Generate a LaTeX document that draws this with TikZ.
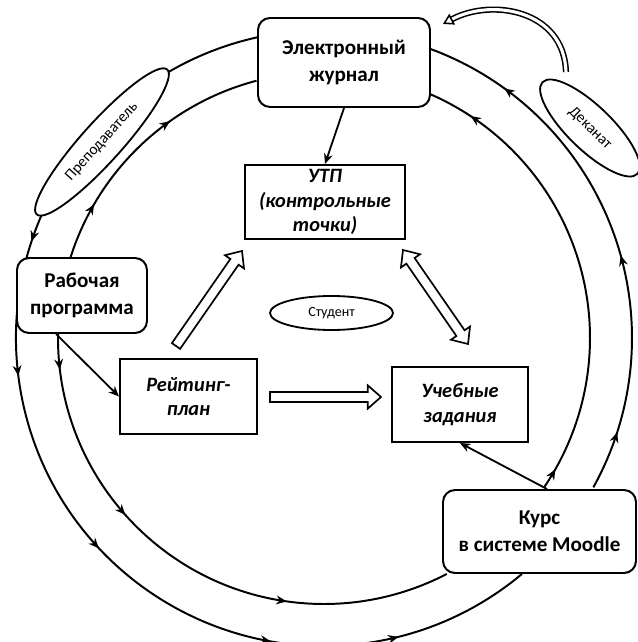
\documentclass[tikz,border=0pt]{standalone}
\usepackage{fontspec}
\setmainfont{Carlito}
\usepackage{tkz-euclide}
\usetikzlibrary{shapes.geometric,decorations.markings,calc,arrows.meta}

\tikzset{
  box/.style={draw, line width=1.4pt, fill=white, rounded corners=3mm, align=center,
    inner sep=0pt, font=\fontsize{15}{19}\selectfont\bfseries},
  task/.style={draw, line width=1.4pt, fill=white, align=center, inner sep=0pt,
    font=\fontsize{14.5}{17.5}\selectfont\bfseries\itshape},
  role/.style={draw, ellipse, line width=1.3pt, fill=white, inner sep=0pt,
    font=\fontsize{10}{12}\selectfont},
  ring/.style={line width=1.4pt},
  fwd/.style={postaction={decorate, decoration={markings,
    mark=at position #1 with {\arrow{Stealth[length=2.6mm,width=2.2mm]}}}}},
  bwd/.style={postaction={decorate, decoration={markings,
    mark=at position #1 with {\arrowreversed{Stealth[length=2.6mm,width=2.2mm]}}}}},
  outerleft/.style={ring, fwd=0.287, fwd=0.409, fwd=0.582, fwd=0.76, fwd=0.875},
  outerright/.style={ring, fwd=0.113, fwd=0.45, fwd=0.84},
  innerleft/.style={ring, fwd=0.066, fwd=0.36, fwd=0.70},
  innertop/.style={ring, bwd=0.355, bwd=0.774},
  innerright/.style={ring, fwd=0.044, fwd=0.90},
  link/.style={line width=1.3pt, -{Stealth[length=2.6mm,width=2.2mm]}},
  blk/.style={line width=1.2pt, fill=white, line join=miter},
  hollow/.style={line width=1.1pt, double=white, double distance=2.2pt,
    -{Triangle[open, length=2.6mm, width=3mm, line width=1.1pt]}}
}

% block arrows: #1 tail, #2 tip
\newcommand\blockarrow[2]{%
  \coordinate (bh) at ($(#2)!0.33cm!(#1)$);
  \draw[blk] ($(#1)!0.125cm!90:(#2)$) -- ($(bh)!0.125cm!90:(#2)$)
    -- ($(bh)!0.29cm!90:(#2)$) -- (#2) -- ($(bh)!0.29cm!-90:(#2)$)
    -- ($(bh)!0.125cm!-90:(#2)$) -- ($(#1)!0.125cm!-90:(#2)$) -- cycle;}
\newcommand\twoblockarrow[2]{%
  \coordinate (bh) at ($(#1)!0.33cm!(#2)$);
  \coordinate (bk) at ($(#2)!0.33cm!(#1)$);
  \draw[blk] (#1) -- ($(bh)!0.29cm!90:(#2)$) -- ($(bh)!0.125cm!90:(#2)$)
    -- ($(bk)!0.125cm!90:(#2)$) -- ($(bk)!0.29cm!90:(#2)$) -- (#2)
    -- ($(bk)!0.29cm!-90:(#2)$) -- ($(bk)!0.125cm!-90:(#2)$)
    -- ($(bh)!0.125cm!-90:(#2)$) -- ($(bh)!0.29cm!-90:(#2)$) -- cycle;}

\begin{document}
\begin{tikzpicture}
  \useasboundingbox (-8.1,-7.6) rectangle (7.825,8.45);
  \tkzDefPoints{0/0/O}
  % outer ring
  \tkzDefShiftPoint[O](102:7.7){oa}
  \tkzDefShiftPoint[O](310:7.7){ob}
  \tkzDefShiftPoint[O](-29:7.7){oc}
  \tkzDefShiftPoint[O](70:7.7){od}
  % inner ring
  \tkzDefShiftPoint[O](179:6.65){ia}
  \tkzDefShiftPoint[O](297.5:6.65){ib}
  \tkzDefShiftPoint[O](104.7:6.65){ic}
  \tkzDefShiftPoint[O](163:6.65){id}
  \tkzDefShiftPoint[O](-34:6.65){ie}
  \tkzDefShiftPoint[O](66.6:6.65){if}

  \tkzDrawArc[outerleft](O,oa)(ob)
  \tkzDrawArc[outerright](O,oc)(od)
  \tkzDrawArc[innerleft](O,ia)(ib)
  \tkzDrawArc[innertop](O,ic)(id)
  \tkzDrawArc[innerright](O,ie)(if)

  \node[box, minimum width=4.3cm, minimum height=2.225cm] (jrnl) at (0.5,6.8875)
    {Электронный\\журнал};
  \node[box, minimum width=3.25cm, minimum height=1.875cm] (rab) at (-6.05,1.0625)
    {Рабочая\\программа};
  \node[box, minimum width=4.825cm, minimum height=2.075cm] (kurs) at (5.3875,-4.8375)
    {Курс\\в системе Moodle};
  \node[task, minimum width=4cm, minimum height=1.85cm] (utp) at (0.025,3.4)
    {УТП\\(контрольные\\точки)};
  \node[task, minimum width=3.425cm, minimum height=1.875cm] (rating) at (-3.3875,-1.4625)
    {Рейтинг-\\план};
  \node[task, minimum width=3.4cm, minimum height=1.875cm] (uch) at (3.4,-1.6625)
    {Учебные\\задания};
  \node[role, minimum width=3.075cm, minimum height=0.85cm] (stud) at (0.1875,0.625)
    {Студент};
  \node[role, minimum width=4.875cm, minimum height=1cm, rotate=48,
    font=\fontsize{11}{13}\selectfont] (prep) at (-5.55,4.9) {Преподаватель};
  \node[role, minimum width=3.3cm, minimum height=1.1cm, rotate=-44,
    font=\fontsize{11}{13}\selectfont] (dek) at (6.65,5.25) {Деканат};

  \draw[link] (jrnl.south) -- (utp.north);
  \draw[link] (rab.236) -- (rating.west);
  \draw[link] (kurs.80) -- (uch.south);

  \coordinate (r1) at (-3.7,-0.2);
  \coordinate (r2) at (-2.05,2.175);
  \coordinate (r3) at (-1.35,-1.475);
  \coordinate (r4) at (1.425,-1.475);
  \coordinate (u1) at (1.975,2.2);
  \coordinate (u2) at (3.6,-0.15);
  \blockarrow{r1}{r2}
  \blockarrow{r3}{r4}
  \twoblockarrow{u1}{u2}

  \coordinate (d1) at (6.05,6.65);
  \coordinate (d2) at (2.975,7.85);
  \draw[hollow] (d1) .. controls (6.0,8.2) and (4.2,8.5) .. (d2);
\end{tikzpicture}
\end{document}
